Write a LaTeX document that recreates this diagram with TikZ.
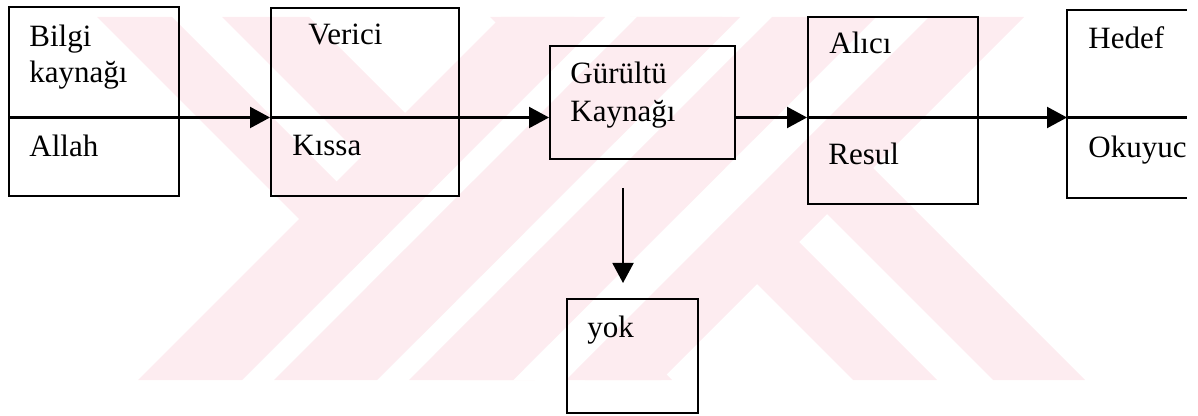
\documentclass[tikz,border=0pt]{standalone}
\usepackage{fontspec}
\setmainfont{Liberation Serif}
\usetikzlibrary{arrows.meta,calc}
\definecolor{wmpink}{RGB}{253,236,240}
\tikzset{
	box/.style={draw, line width=1.1pt, inner sep=0pt, anchor=north west},
	openbox/.style={inner sep=0pt, anchor=north west},
	lbl/.style={anchor=base west, inner sep=0pt, font=\fontsize{15.5pt}{18pt}\selectfont},
	arr/.style={line width=1.1pt, -{Triangle[length=10pt,width=10.5pt]}},
}
\begin{document}
\begin{tikzpicture}[x=0.5pt,y=-0.5pt]
			\useasboundingbox (0,0) rectangle (1198,416);
			% background mark
			\begin{scope}
				\clip (0,17) rectangle (1198,380);
				\foreach \a/\b in {80/155,205/292,473/557,613/705}
					\fill[wmpink] (\a+17,17) -- (\b+17,17) -- (\b+380,380) -- (\a+380,380) -- cycle;
				\foreach \a/\b in {622/654,757/789,893/946}
					\fill[white] (\a-17,17) -- (\b-17,17) -- (\b-380,380) -- (\a-380,380) -- cycle;
				\foreach \a/\b in {518/622,654/757,789/893,946/1041}
					\fill[wmpink] (\a-17,17) -- (\b-17,17) -- (\b-380,380) -- (\a-380,380) -- cycle;
			\end{scope}
			% boxes
			\node[box, minimum width=85pt, minimum height=94.5pt] (src) at (8,6) {};
			\node[box, minimum width=94pt, minimum height=94pt] (tx) at (270,7) {};
			\node[box, minimum width=92.5pt, minimum height=56.5pt] (noise) at (549,45) {};
			\node[box, minimum width=85pt, minimum height=93.5pt] (rx) at (807,16) {};
			\node[openbox, minimum width=59.5pt, minimum height=93.5pt] (dest) at (1067,10) {};
			\node[box, minimum width=65.5pt, minimum height=57pt] (yok) at (566,298) {};
			\draw[line width=1.1pt] (dest.north east) -- (dest.north west) -- (dest.south west) -- (dest.south east);
			% links
			\coordinate (lvl) at (0,117.5);
			\coordinate (drop) at (623,188);
			\draw[arr] (src.west |- lvl) -- (tx.west |- lvl);
			\draw[arr] (tx.west |- lvl) -- (noise.west |- lvl);
			\draw[arr] (noise.east |- lvl) -- (rx.west |- lvl);
			\draw[arr] (rx.west |- lvl) -- (dest.west |- lvl);
			\draw[line width=1.1pt] (dest.west |- lvl) -- (dest.east |- lvl);
			\draw[arr, line width=1pt, shorten >=7.5pt] (drop) -- (drop |- yok.north);
			% texts
			\node[lbl] (srcA) at (29,47) {Bilgi};
			\node[lbl] (srcB) at (29,83) {kaynağı};
			\node[lbl] (srcC) at (29,157) {Allah};
			\node[lbl] (txA) at (308,45) {Verici};
			\node[lbl] (txB) at (292,156) {Kıssa};
			\node[lbl] (noiseA) at (570,84) {Gürültü};
			\node[lbl] (noiseB) at (570,122) {Kaynağı};
			\node[lbl] (rxA) at (829,54) {Alıcı};
			\node[lbl] (rxB) at (828,165) {Resul};
			\node[lbl] (destA) at (1088,49) {Hedef};
			\node[lbl] (destB) at (1088,158) {Okuyuc};
			\node[lbl] (yokA) at (587,337) {yok};
		\end{tikzpicture}
\end{document}
